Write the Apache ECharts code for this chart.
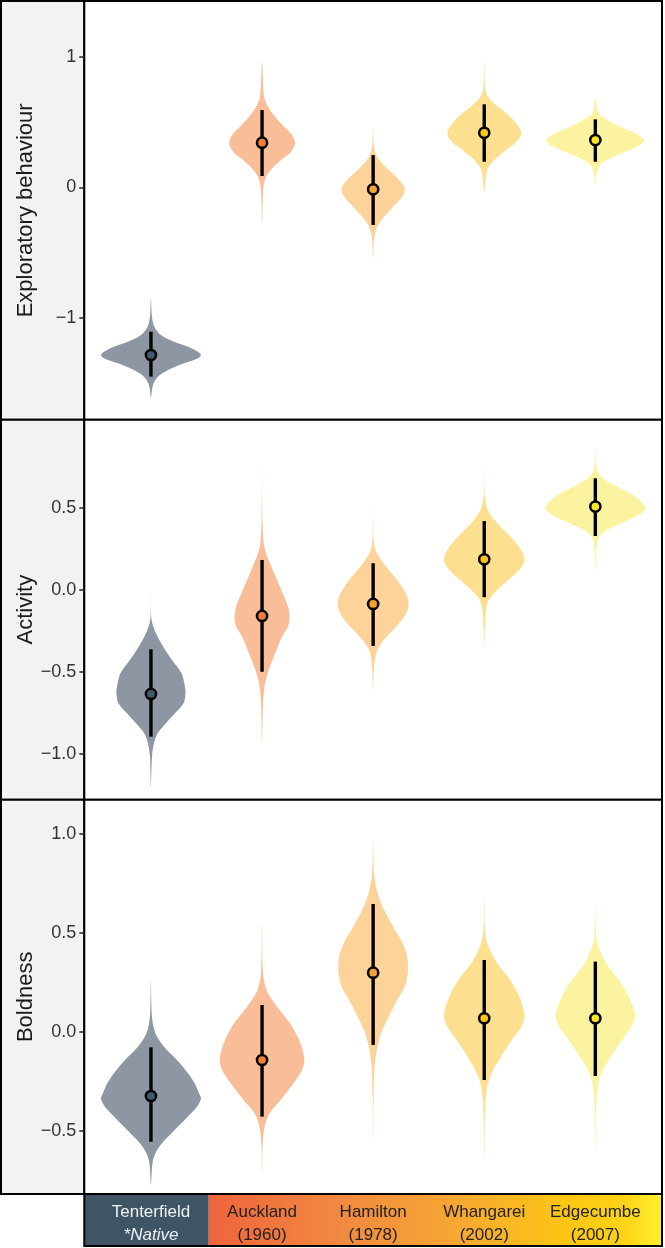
<!DOCTYPE html>
<html>
<head>
<meta charset="utf-8">
<script src="https://cdn.jsdelivr.net/npm/echarts@6/dist/echarts.min.js"></script>
<style>html,body{margin:0;padding:0;background:#fff}#c{width:665px;height:1248px}</style>
</head>
<body>
<div id="c"></div>
<script>
// ---------- DATA ----------
const categories = ['Tenterfield', 'Auckland', 'Hamilton', 'Whangarei', 'Edgecumbe'];
const subLabels = ['*Native', '(1960)', '(1978)', '(2002)', '(2007)'];
const traitNames = ['Exploratory behaviour', 'Activity', 'Boldness'];

// posterior means and interval limits per population
const explorMean = [-1.285, 0.342, -0.015, 0.418, 0.362];
const explorLow  = [-1.451, 0.087, -0.289, 0.196, 0.196];
const explorHigh = [-1.107, 0.592, 0.247, 0.636, 0.521];

const activityMean = [-0.635, -0.160, -0.087, 0.185, 0.506];
const activityLow  = [-0.895, -0.500, -0.343, -0.046, 0.327];
const activityHigh = [-0.363, 0.181, 0.161, 0.418, 0.678];

const boldMean = [-0.325, -0.143, 0.298, 0.068, 0.068];
const boldLow  = [-0.556, -0.429, -0.067, -0.244, -0.224];
const boldHigh = [-0.079, 0.135, 0.645, 0.362, 0.354];

// violin outlines: [value, half-width in category units]
const explorDensity = [
  [[-0.851,0],[-0.992,0.009],[-1.068,0.03],[-1.132,0.09],[-1.183,0.207],[-1.221,0.333],[-1.260,0.423],[-1.285,0.45],[-1.310,0.423],[-1.349,0.297],[-1.400,0.153],[-1.451,0.063],[-1.502,0.024],[-1.553,0.009],[-1.617,0]],
  [[0.963,0],[0.694,0.018],[0.618,0.054],[0.541,0.117],[0.465,0.198],[0.401,0.27],[0.337,0.297],[0.273,0.261],[0.209,0.171],[0.145,0.09],[0.081,0.036],[0.005,0.0135],[-0.097,0.006],[-0.289,0]],
  [[0.460,0],[0.311,0.009],[0.235,0.036],[0.158,0.108],[0.081,0.207],[0.018,0.27],[-0.021,0.285],[-0.072,0.261],[-0.148,0.18],[-0.225,0.099],[-0.302,0.036],[-0.404,0.009],[-0.572,0]],
  [[0.963,0],[0.746,0.009],[0.70,0.03],[0.643,0.09],[0.567,0.198],[0.490,0.288],[0.419,0.333],[0.362,0.306],[0.286,0.198],[0.209,0.09],[0.133,0.027],[-0.033,0]],
  [[0.682,0],[0.567,0.027],[0.516,0.108],[0.465,0.225],[0.414,0.36],[0.362,0.441],[0.324,0.405],[0.273,0.27],[0.222,0.135],[0.171,0.045],[0.107,0.0135],[0.018,0]]
];
const activityDensity = [
  [[-0.012,0],[-0.185,0.006],[-0.266,0.045],[-0.347,0.11],[-0.428,0.19],[-0.509,0.275],[-0.591,0.306],[-0.635,0.311],[-0.692,0.293],[-0.753,0.216],[-0.814,0.135],[-0.875,0.06],[-0.936,0.027],[-1.017,0.009],[-1.2,0]],
  [[0.770,0],[0.424,0.004],[0.262,0.02],[0.161,0.072],[0.059,0.135],[-0.042,0.198],[-0.103,0.234],[-0.164,0.247],[-0.225,0.234],[-0.286,0.18],[-0.388,0.117],[-0.489,0.06],[-0.570,0.027],[-0.692,0.009],[-0.936,0]],
  [[0.526,0],[0.303,0.006],[0.221,0.033],[0.140,0.117],[0.059,0.216],[-0.022,0.293],[-0.083,0.32],[-0.144,0.297],[-0.205,0.234],[-0.266,0.15],[-0.327,0.072],[-0.388,0.027],[-0.469,0.009],[-0.611,0]],
  [[0.749,0],[0.567,0.006],[0.485,0.033],[0.404,0.117],[0.323,0.234],[0.242,0.333],[0.181,0.363],[0.120,0.315],[0.059,0.216],[-0.002,0.117],[-0.063,0.04],[-0.144,0.0135],[-0.347,0]],
  [[0.871,0],[0.749,0.009],[0.688,0.05],[0.638,0.167],[0.587,0.315],[0.536,0.414],[0.502,0.45],[0.465,0.414],[0.424,0.297],[0.384,0.167],[0.343,0.06],[0.292,0.016],[0.120,0]]
];
const boldDensity = [
  [[0.253,0],[0.076,0.009],[-0.008,0.04],[-0.076,0.117],[-0.143,0.234],[-0.210,0.333],[-0.261,0.393],[-0.311,0.432],[-0.337,0.45],[-0.379,0.414],[-0.429,0.333],[-0.496,0.216],[-0.564,0.099],[-0.614,0.04],[-0.665,0.0135],[-0.774,0]],
  [[0.547,0],[0.295,0.009],[0.211,0.04],[0.126,0.135],[0.042,0.252],[-0.042,0.333],[-0.109,0.373],[-0.151,0.38],[-0.193,0.36],[-0.261,0.283],[-0.345,0.167],[-0.412,0.067],[-0.480,0.023],[-0.564,0.006],[-0.715,0]],
  [[0.968,0],[0.800,0.009],[0.699,0.04],[0.615,0.099],[0.530,0.18],[0.446,0.266],[0.379,0.306],[0.303,0.313],[0.227,0.283],[0.160,0.216],[0.076,0.14],[-0.008,0.072],[-0.092,0.033],[-0.177,0.0135],[-0.345,0.004],[-0.597,0]],
  [[0.674,0],[0.497,0.009],[0.429,0.04],[0.345,0.117],[0.261,0.234],[0.177,0.315],[0.118,0.351],[0.076,0.363],[0.025,0.333],[-0.042,0.249],[-0.126,0.15],[-0.210,0.067],[-0.278,0.027],[-0.379,0.009],[-0.648,0]],
  [[0.657,0],[0.480,0.009],[0.413,0.04],[0.328,0.117],[0.244,0.234],[0.160,0.315],[0.110,0.349],[0.079,0.36],[0.025,0.324],[-0.042,0.24],[-0.126,0.14],[-0.193,0.067],[-0.261,0.027],[-0.362,0.009],[-0.614,0]]
];

// y tick labels per panel
const explorTicks = [-1, 0, 1];
const activityTicks = [-1.0, -0.5, 0.0, 0.5];
const boldTicks = [-0.5, 0.0, 0.5, 1.0];

// ---------- STYLE ----------
const violinColors = ['#8d96a2', '#f9be97', '#fdd399', '#fde08f', '#fcf3a0'];
const dotColors = ['#3e5a6b', '#f07c38', '#f6a12b', '#fbc612', '#fbe420'];
const FONT = '"Liberation Sans", Arial, Helvetica, sans-serif';

const panels = [
  {mean: explorMean, low: explorLow, high: explorHigh, dens: explorDensity, ticks: explorTicks, min: -1.781, max: 1.428, top: 1, height: 418.7, dec: 0},
  {mean: activityMean, low: activityLow, high: activityHigh, dens: activityDensity, ticks: activityTicks, min: -1.279, max: 1.035, top: 419.7, height: 380, dec: 1},
  {mean: boldMean, low: boldLow, high: boldHigh, dens: boldDensity, ticks: boldTicks, min: -0.820, max: 1.172, top: 799.7, height: 394.3, dec: 1}
];

const L = 84.3, R = 3;
const fmt = (v, dec) => {
  let s = dec ? Math.abs(v).toFixed(dec) : String(Math.abs(v));
  return (v < 0 ? '\u2212' : '') + s;
};

const grids = [], xAxes = [], yAxes = [], series = [], graphics = [];
panels.forEach((p, k) => {
  grids.push({left: L, right: R, top: p.top, height: p.height, show: true, borderColor: '#000', borderWidth: 2, backgroundColor: '#fff'});
  xAxes.push({type: 'value', gridIndex: k, min: 0.4, max: 5.6, show: false});
  yAxes.push({
    type: 'value', gridIndex: k, min: p.min, max: p.max,
    axisLine: {show: false}, splitLine: {show: false},
    axisTick: {show: true, length: 5, customValues: p.ticks, lineStyle: {color: '#222', width: 1.5}},
    axisLabel: {customValues: p.ticks, fontSize: 18, color: '#333', margin: 8, fontFamily: FONT, formatter: v => fmt(v, p.dec)},
    name: traitNames[k], nameLocation: 'middle', nameGap: 47, nameMoveOverlap: false,
    nameTextStyle: {fontSize: 22, color: '#1a1a1a', fontFamily: FONT}
  });
  graphics.push({type: 'rect', z: -10, shape: {x: 1, y: p.top, width: L - 1, height: p.height}, style: {fill: '#f2f2f2', stroke: '#000', lineWidth: 2}});

  series.push({
    type: 'custom', xAxisIndex: k, yAxisIndex: k, silent: true, z: 2,
    data: categories.map((c, i) => [i + 1, i]),
    renderItem: (params, api) => {
      const cx = api.value(0), i = api.value(1);
      const prof = p.dens[i];
      const pts = [];
      prof.forEach(d => pts.push(api.coord([cx + d[1], d[0]])));
      for (let j = prof.length - 2; j >= 1; j--) pts.push(api.coord([cx - prof[j][1], prof[j][0]]));
      return {type: 'polygon', shape: {points: pts, smooth: 0.3}, style: {fill: violinColors[i]}};
    }
  });
  series.push({
    type: 'custom', xAxisIndex: k, yAxisIndex: k, silent: true, z: 3,
    data: categories.map((c, i) => [i + 1, p.mean[i], p.low[i], p.high[i], i]),
    renderItem: (params, api) => {
      const x = api.value(0), i = api.value(4);
      const a = api.coord([x, api.value(2)]), b = api.coord([x, api.value(3)]), m = api.coord([x, api.value(1)]);
      return {type: 'group', children: [
        {type: 'line', shape: {x1: a[0], y1: a[1], x2: b[0], y2: b[1]}, style: {stroke: '#000', lineWidth: 3.4}},
        {type: 'circle', shape: {cx: m[0], cy: m[1], r: 5.1}, style: {fill: dotColors[i], stroke: '#000', lineWidth: 2.5}}
      ]};
    }
  });
});

// bottom colour bar
grids.push({left: L, right: R, top: 1194, height: 52, show: false});
xAxes.push({type: 'value', gridIndex: 3, min: 0.4, max: 5.6, show: false});
yAxes.push({type: 'value', gridIndex: 3, min: 0, max: 1, show: false});
series.push({
  type: 'custom', xAxisIndex: 3, yAxisIndex: 3, silent: true, z: 1,
  data: [[0]],
  renderItem: (params, api) => {
    const p0 = api.coord([0.4, 1]), pSplit = api.coord([1.52, 0]), p1 = api.coord([5.6, 0]);
    return {type: 'group', children: [
      {type: 'rect', shape: {x: p0[0], y: p0[1], width: pSplit[0] - p0[0], height: p1[1] - p0[1]}, style: {fill: '#3e5566'}},
      {type: 'rect', shape: {x: pSplit[0], y: p0[1], width: p1[0] - pSplit[0], height: p1[1] - p0[1]},
        style: {fill: new echarts.graphic.LinearGradient(0, 0, 1, 0, [
          {offset: 0, color: '#ee643d'}, {offset: 0.3, color: '#f28a40'}, {offset: 0.55, color: '#f7a832'},
          {offset: 0.78, color: '#fcc514'}, {offset: 0.92, color: '#fdd417'}, {offset: 1, color: '#fff030'}])}},
      {type: 'rect', shape: {x: p0[0], y: p0[1], width: p1[0] - p0[0], height: p1[1] - p0[1]}, style: {fill: 'none', stroke: '#000', lineWidth: 2}}
    ]};
  }
});
series.push({
  type: 'custom', xAxisIndex: 3, yAxisIndex: 3, silent: true, z: 4,
  data: categories.map((c, i) => [i + 1, i]),
  renderItem: (params, api) => {
    const i = api.value(1);
    const pt = api.coord([api.value(0), 0.5]);
    const native = i === 0;
    return {type: 'text', x: pt[0], y: pt[1] + 4, style: {
      text: '{a|' + categories[i] + '}\n{' + (native ? 'b' : 'a') + '|' + subLabels[i] + '}',
      align: 'center', verticalAlign: 'middle',
      rich: {
        a: {fontSize: 17, lineHeight: 23, fontFamily: FONT, fill: native ? '#eef2f5' : '#222', color: native ? '#eef2f5' : '#222'},
        b: {fontSize: 17, lineHeight: 23, fontFamily: FONT, fontStyle: 'italic', fill: '#eef2f5', color: '#eef2f5'}
      }
    }};
  }
});

const chart = echarts.init(document.getElementById('c'));
chart.setOption({
  animation: false,
  backgroundColor: '#fff',
  grid: grids, xAxis: xAxes, yAxis: yAxes, series: series, graphic: graphics
});
</script>
</body>
</html>
